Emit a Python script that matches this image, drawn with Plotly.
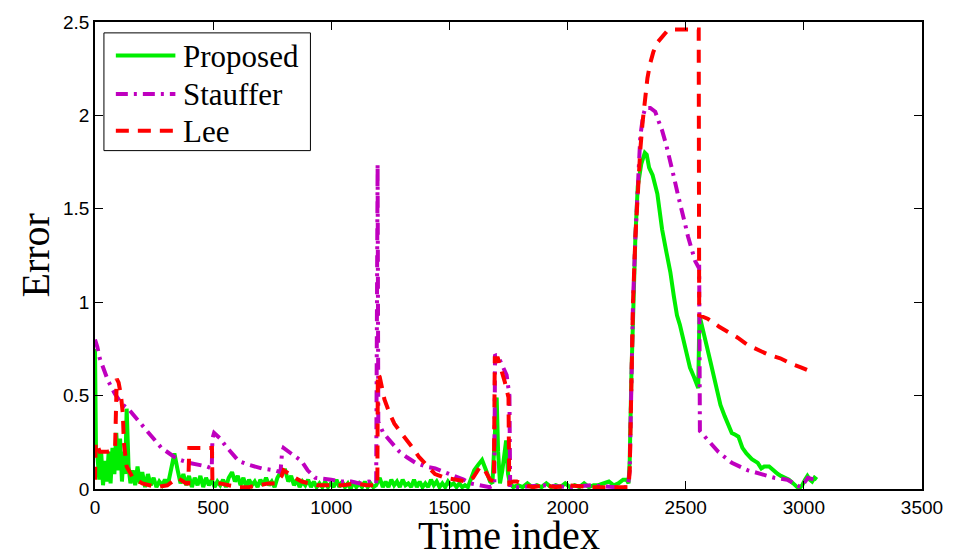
import plotly.graph_objects as go

# ---------------- data ----------------
prop_t = [0, 4, 10, 18, 26, 34, 42, 50, 58, 66, 74, 82, 90, 98, 106, 114, 122, 128, 134, 142,
          150, 160, 170, 180, 190, 200, 212, 224, 236, 248, 260, 272, 284, 296, 308, 320, 336, 350,
          362, 374, 386, 398, 410, 422, 434, 446, 458, 470, 482, 494, 506, 518, 530, 542, 554, 566,
          580, 592, 604, 616, 628, 640, 652, 664, 676, 688, 700, 712, 724, 736, 748, 760, 772, 790,
          805, 818, 830, 842, 854, 866, 878, 890, 902, 914, 926, 938, 950, 962, 974, 986, 998, 1010,
          1022, 1034, 1046, 1058, 1070, 1082, 1094, 1106, 1118, 1130, 1142, 1154, 1166, 1178, 1190,
          1205, 1218, 1230, 1242, 1254, 1266, 1278, 1290, 1302, 1314, 1326, 1338, 1350, 1362, 1374,
          1386, 1398, 1410, 1422, 1434, 1446, 1458, 1470, 1482, 1494, 1506, 1518, 1530, 1542, 1554,
          1566, 1578, 1590, 1605, 1622, 1638, 1655, 1672, 1682, 1692, 1700, 1706, 1714, 1724, 1740,
          1748, 1756, 1770, 1790, 1810, 1830, 1850, 1870, 1890, 1910, 1930, 1950, 1970, 1990, 2010,
          2030, 2050, 2070, 2090, 2110, 2130, 2150, 2175, 2195, 2215, 2235, 2250, 2258, 2263, 2270,
          2277, 2287, 2297, 2312, 2327, 2335, 2345, 2360, 2380, 2390, 2400, 2418, 2435, 2450, 2463,
          2475, 2490, 2505, 2518, 2535, 2553, 2558, 2575, 2590, 2605, 2625, 2647, 2665, 2680, 2695,
          2710, 2723, 2740, 2757, 2780, 2805, 2820, 2832, 2853, 2870, 2890, 2903, 2920, 2937, 2955,
          2972, 2985, 2993, 3005, 3015, 3025, 3035, 3045, 3055]
prop_v = [0.75, 0.22, 0.18, 0.05, 0.2, 0.02, 0.15, 0.04, 0.2, 0.03, 0.22, 0.08, 0.3, 0.1, 0.27, 0.04,
          0.2, 0.08, 0.43, 0.12, 0.03, 0.1, 0.02, 0.12, 0.03, 0.09, 0.01, 0.08, 0.02, 0.06, 0.01, 0.04,
          0.02, 0.05, 0.02, 0.1, 0.19, 0.1, 0.03, 0.08, 0.02, 0.07, 0.01, 0.06, 0.02, 0.07, 0.01, 0.06,
          0.02, 0.05, 0.01, 0.04, 0.02, 0.05, 0.01, 0.06, 0.09, 0.04, 0.07, 0.02, 0.06, 0.01, 0.05,
          0.02, 0.04, 0.01, 0.05, 0.02, 0.06, 0.02, 0.04, 0.01, 0.06, 0.1, 0.1, 0.04, 0.07, 0.02, 0.05,
          0.01, 0.04, 0.02, 0.05, 0.01, 0.04, 0.01, 0.03, 0.01, 0.04, 0.01, 0.03, 0.01, 0.05, 0.01,
          0.04, 0.01, 0.03, 0.0, 0.04, 0.01, 0.03, 0.01, 0.04, 0.01, 0.03, 0.01, 0.02, 0.06, 0.01,
          0.04, 0.01, 0.05, 0.02, 0.04, 0.01, 0.05, 0.02, 0.03, 0.01, 0.05, 0.01, 0.04, 0.01, 0.03,
          0.01, 0.05, 0.02, 0.04, 0.01, 0.03, 0.01, 0.04, 0.02, 0.03, 0.01, 0.03, 0.01, 0.02, 0.01,
          0.05, 0.1, 0.13, 0.155, 0.1, 0.04, 0.03, 0.3, 0.49, 0.2, 0.03, 0.1, 0.26, 0.08, 0.03, 0.01,
          0.02, 0.01, 0.03, 0.01, 0.02, 0.01, 0.03, 0.01, 0.02, 0.01, 0.03, 0.01, 0.02, 0.01, 0.03,
          0.01, 0.02, 0.02, 0.03, 0.04, 0.02, 0.03, 0.05, 0.05, 0.03, 0.15, 0.6, 1.0, 1.35, 1.62,
          1.74, 1.8, 1.79, 1.72, 1.68, 1.58, 1.46, 1.39, 1.27, 1.16, 1.03, 0.93, 0.88, 0.8, 0.72,
          0.65, 0.6, 0.54, 0.93, 0.85, 0.76, 0.68, 0.57, 0.45, 0.39, 0.34, 0.3, 0.29, 0.28, 0.22,
          0.19, 0.16, 0.14, 0.11, 0.12, 0.12, 0.1, 0.08, 0.07, 0.06, 0.05, 0.03, 0.01, 0.01, 0.02,
          0.05, 0.07, 0.05, 0.04, 0.06, 0.05]

stau_t = [0, 10, 20, 34, 55, 84, 110, 147, 180, 218, 250, 281, 315, 349, 399, 440, 474, 494, 497,
          504, 530, 553, 580, 608, 650, 706, 760, 785, 792, 798, 830, 874, 900, 932, 1000, 1040,
          1085, 1120, 1160, 1190, 1196, 1199, 1220, 1248, 1288, 1320, 1357, 1400, 1440, 1480, 1520,
          1560, 1588, 1630, 1670, 1690, 1693, 1710, 1730, 1742, 1754, 1757, 1800, 1900, 2000, 2100,
          2200, 2255, 2263, 2270, 2277, 2287, 2297, 2308, 2320, 2329, 2350, 2371, 2385, 2400, 2418,
          2435, 2450, 2468, 2483, 2497, 2510, 2525, 2540, 2553, 2557, 2560, 2595, 2637, 2695, 2763,
          2820, 2875, 2930, 2960, 2985, 3000, 3017, 3045]
stau_v = [0.8, 0.76, 0.7, 0.65, 0.58, 0.51, 0.46, 0.42, 0.37, 0.32, 0.27, 0.22, 0.19, 0.16, 0.14,
          0.13, 0.12, 0.11, 0.27, 0.3, 0.27, 0.23, 0.19, 0.15, 0.13, 0.11, 0.1, 0.09, 0.2, 0.22, 0.19,
          0.15, 0.1, 0.06, 0.05, 0.04, 0.04, 0.03, 0.04, 0.03, 1.74, 0.36, 0.3, 0.26, 0.2, 0.17, 0.14,
          0.12, 0.11, 0.09, 0.07, 0.05, 0.03, 0.02, 0.01, 0.02, 0.72, 0.7, 0.65, 0.61, 0.5, 0.01,
          0.01, 0.02, 0.01, 0.02, 0.01, 0.01, 0.1, 0.6, 1.0, 1.35, 1.65, 1.89, 2.0, 2.04, 2.04, 2.02,
          1.97, 1.92, 1.84, 1.76, 1.67, 1.57, 1.5, 1.42, 1.35, 1.28, 1.22, 1.19, 1.19, 0.31, 0.26,
          0.2, 0.14, 0.1, 0.08, 0.06, 0.05, 0.03, 0.01, 0.03, 0.06, 0.05]

lee_t = [0, 3, 8, 20, 34, 55, 76, 85, 92, 100, 110, 118, 122, 134, 160, 200, 260, 306, 349, 386,
         395, 399, 450, 495, 497, 530, 566, 610, 650, 693, 734, 764, 790, 798, 820, 847, 875, 902,
         940, 986, 1050, 1100, 1150, 1195, 1197, 1205, 1225, 1245, 1267, 1290, 1309, 1330, 1351,
         1372, 1393, 1415, 1439, 1480, 1519, 1574, 1600, 1630, 1650, 1672, 1688, 1692, 1705, 1722,
         1735, 1750, 1753, 1770, 1785, 1820, 1855, 1900, 1950, 2000, 2100, 2200, 2258, 2263, 2270,
         2277, 2287, 2297, 2308, 2318, 2328, 2338, 2350, 2363, 2380, 2400, 2420, 2442, 2497, 2555,
         2557, 2595, 2640, 2680, 2720, 2764, 2800, 2848, 2900, 2947, 2990, 3030, 3045]
lee_v = [0.05, 0.25, 0.24, 0.2, 0.2, 0.2, 0.21, 0.22, 0.59, 0.57, 0.5, 0.4, 0.25, 0.12, 0.06, 0.03,
         0.01, 0.02, 0.06, 0.03, 0.03, 0.22, 0.22, 0.22, 0.03, 0.03, 0.02, 0.01, 0.01, 0.02, 0.03,
         0.03, 0.07, 0.1, 0.08, 0.06, 0.04, 0.03, 0.02, 0.02, 0.02, 0.03, 0.02, 0.02, 0.62, 0.6,
         0.48, 0.41, 0.35, 0.31, 0.28, 0.24, 0.21, 0.17, 0.14, 0.11, 0.08, 0.06, 0.05, 0.04, 0.06,
         0.12, 0.1, 0.05, 0.04, 0.7, 0.7, 0.63, 0.57, 0.49, 0.03, 0.04, 0.04, 0.02, 0.01, 0.02, 0.01,
         0.02, 0.01, 0.01, 0.01, 0.1, 0.6, 1.0, 1.35, 1.62, 1.82, 1.97, 2.1, 2.2, 2.28, 2.34, 2.39,
         2.42, 2.45, 2.46, 2.46, 2.46, 0.93, 0.91, 0.87, 0.84, 0.81, 0.77, 0.75, 0.72, 0.7, 0.67,
         0.65, 0.63, 0.62]

x_ticks = [0, 500, 1000, 1500, 2000, 2500, 3000, 3500]
y_ticks = [0, 0.5, 1, 1.5, 2, 2.5]
y_tick_text = ["0", "0.5", "1", "1.5", "2", "2.5"]

series_names = ["Proposed", "Stauffer", "Lee"]
series_colors = ["#00ee00", "#bf00bf", "#ff0000"]
series_dash = ["solid", "12px,6px,3px,6px", "13px,9px"]

# ---------------- figure ----------------
fig = go.Figure()
for name, tt, vv, col, dsh in zip(series_names, [prop_t, stau_t, lee_t], [prop_v, stau_v, lee_v],
                                  series_colors, series_dash):
    fig.add_trace(go.Scatter(x=tt, y=vv, name=name, mode="lines", showlegend=False,
                             line=dict(color=col, width=4, dash=dsh)))

axis_common = dict(showgrid=False, zeroline=False, showline=True, linecolor="black", linewidth=1.5,
                   mirror="ticks", ticks="inside", ticklen=8, tickwidth=1, tickcolor="black",
                   tickfont=dict(family="Liberation Sans, Arial", size=19, color="black"))

fig.update_xaxes(range=[0, 3500], tickvals=x_ticks, **axis_common)
fig.update_yaxes(range=[0, 2.5], tickvals=y_ticks, ticktext=y_tick_text, **axis_common)

# legend box drawn in the MATLAB style (long line samples)
serif = "Liberation Serif, Times New Roman"
shapes = [dict(type="rect", xref="paper", yref="paper", x0=0.0108, x1=0.2605, y0=0.7246, y1=0.9767,
               line=dict(color="black", width=1), fillcolor="white", layer="above")]
annotations = []
row_y = [0.928, 0.846, 0.767]
for name, col, dsh, yy in zip(series_names, series_colors, series_dash, row_y):
    shapes.append(dict(type="line", xref="paper", yref="paper", x0=0.0252, x1=0.0972, y0=yy, y1=yy,
                       line=dict(color=col, width=4, dash=dsh), layer="above"))
    annotations.append(dict(text=name, xref="paper", yref="paper", x=0.104, y=yy, xanchor="left",
                            yanchor="middle", yshift=-1, showarrow=False,
                            font=dict(family=serif, size=31, color="black")))

annotations += [
    dict(text="Time index", xref="paper", yref="paper", x=0.5, y=0, xanchor="center",
         yanchor="top", yshift=-22, showarrow=False,
         font=dict(family=serif, size=40, color="black")),
    dict(text="Error", xref="paper", yref="paper", x=0, y=0.5, xanchor="center",
         yanchor="middle", xshift=-60, textangle=-90, showarrow=False,
         font=dict(family=serif, size=40, color="black")),
]

fig.update_layout(
    width=955, height=554,
    margin=dict(l=95, r=27, t=17, b=65),
    paper_bgcolor="white", plot_bgcolor="white",
    showlegend=False,
    shapes=shapes,
    annotations=annotations,
)

fig.write_html("out.html")
